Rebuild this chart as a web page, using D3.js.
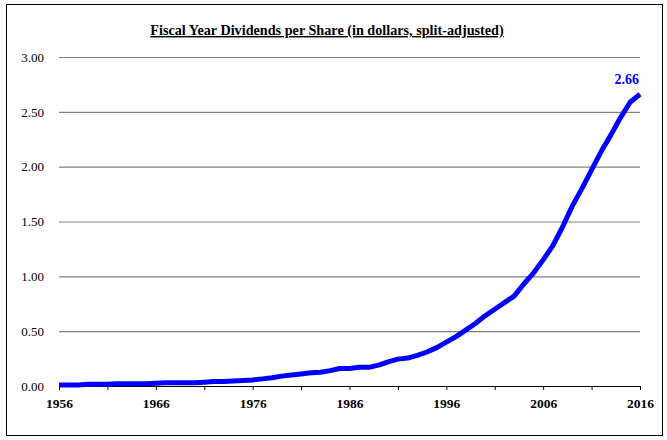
<!DOCTYPE html>
<html>
<head>
<meta charset="utf-8">
<script src="https://cdn.jsdelivr.net/npm/d3@7"></script>
<style>
  body { margin: 0; background: #fff; }
  svg { display: block; font-family: "Liberation Serif", "Times New Roman", serif; }
</style>
</head>
<body>
<div id="chart"></div>
<script>
// fiscal year dividends per share, split-adjusted
var years = d3.range(1956, 2017);
var dividends = [
  0.010, 0.010, 0.010, 0.015, 0.015, 0.015, 0.020, 0.020, 0.020, 0.020,
  0.025, 0.030, 0.030, 0.030, 0.030, 0.035, 0.040, 0.040, 0.045, 0.050,
  0.055, 0.065, 0.075, 0.090, 0.100, 0.110, 0.120, 0.125, 0.140, 0.160,
  0.160, 0.170, 0.170, 0.190, 0.220, 0.245, 0.255, 0.280, 0.310, 0.350,
  0.400, 0.450, 0.510, 0.570, 0.640, 0.700, 0.760, 0.820, 0.930, 1.030,
  1.150, 1.280, 1.450, 1.640, 1.800, 1.970, 2.140, 2.290, 2.450, 2.590,
  2.660
];
var yTicks = [0, 0.5, 1, 1.5, 2, 2.5, 3];
var xLabels = [1956, 1966, 1976, 1986, 1996, 2006, 2016];
var xTickMarks = d3.range(1956, 2017, 5);
var title = "Fiscal Year Dividends per Share (in dollars, split-adjusted)";

var W = 667, H = 440;
var margin = {top: 57, right: 27, bottom: 54, left: 59};

var svg = d3.select("#chart").append("svg").attr("width", W).attr("height", H);

// outer frame
svg.append("rect")
    .attr("x", 6.5).attr("y", 4.5)
    .attr("width", 656).attr("height", 431)
    .attr("fill", "#fff").attr("stroke", "#000").attr("stroke-width", 1);

var x = d3.scaleLinear().domain([1956, 2016]).range([margin.left, W - margin.right]);
var y = d3.scaleLinear().domain([0, 3]).range([H - margin.bottom, margin.top]);

// gridlines + y labels
var yAxis = svg.append("g")
    .attr("transform", "translate(" + margin.left + ",0)")
    .call(d3.axisLeft(y).tickValues(yTicks).tickFormat(d3.format(".2f"))
        .tickSize(-(W - margin.right - margin.left)).tickPadding(15));
yAxis.select(".domain").remove();
yAxis.selectAll(".tick line").attr("stroke", "#808080").attr("stroke-width", 1.2);
yAxis.selectAll(".tick text")
    .attr("font-family", "Liberation Serif, Times New Roman, serif")
    .attr("font-size", 13).attr("fill", "#000");

// x axis
var xAxis = svg.append("g")
    .attr("transform", "translate(0," + y(0) + ")")
    .call(d3.axisBottom(x).tickValues(xTickMarks).tickSize(4).tickSizeOuter(0)
        .tickFormat(function(d) { return xLabels.indexOf(d) >= 0 ? d : ""; }).tickPadding(8));
xAxis.select(".domain").attr("stroke", "#000");
xAxis.selectAll(".tick line").attr("stroke", "#000");
xAxis.selectAll(".tick text")
    .attr("font-family", "Liberation Serif, Times New Roman, serif")
    .attr("font-size", 13.5).attr("font-weight", "bold").attr("fill", "#000");

// line
var line = d3.line()
    .x(function(d, i) { return x(years[i]); })
    .y(function(d) { return y(d); });

svg.append("path")
    .datum(dividends)
    .attr("fill", "none")
    .attr("stroke", "#0000ff")
    .attr("stroke-width", 5)
    .attr("stroke-linejoin", "round")
    .attr("d", line);

// last value label
var last = dividends.length - 1;
svg.append("text")
    .attr("x", x(years[last]) - 1)
    .attr("y", y(dividends[last]) - 10)
    .attr("text-anchor", "end")
    .attr("font-size", 14)
    .attr("font-weight", "bold")
    .attr("fill", "#0000ff")
    .text(d3.format(".2f")(dividends[last]));

// title
svg.append("text")
    .attr("x", 327)
    .attr("y", 35)
    .attr("text-anchor", "middle")
    .attr("font-size", 14.2)
    .attr("font-weight", "bold")
    .style("text-decoration", "underline")
    .text(title);
</script>
</body>
</html>
